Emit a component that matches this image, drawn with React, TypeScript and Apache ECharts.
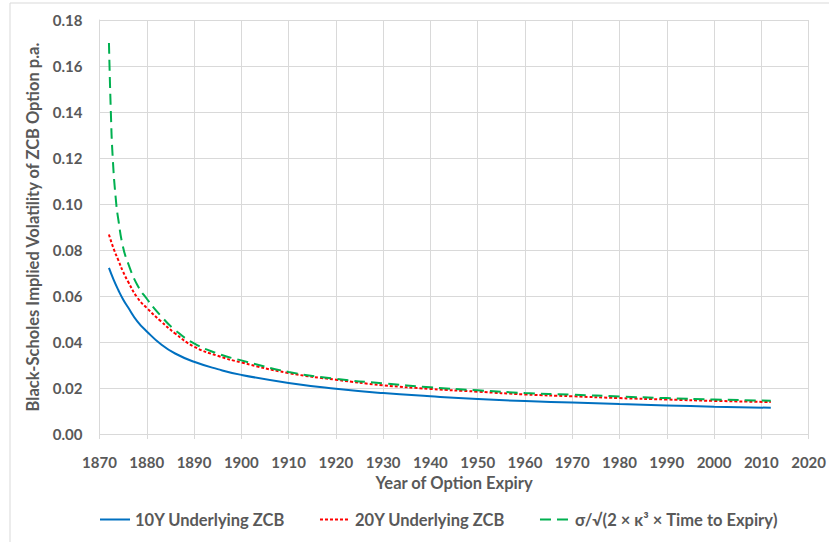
import React, { useEffect, useRef } from "react";
import * as echarts from "echarts";

// Years at which the 10Y / 20Y curves are sampled
const years = [1872, 1873, 1874, 1875, 1876, 1878, 1880, 1883, 1886, 1890, 1895, 1900, 1910, 1920, 1930, 1940, 1950, 1960, 1970, 1980, 1990, 2000, 2012];
const vol10Y = [0.0722, 0.0670, 0.0625, 0.0585, 0.0552, 0.0490, 0.0446, 0.0390, 0.0350, 0.0314, 0.0282, 0.0257, 0.0222, 0.0197, 0.0178, 0.0164, 0.0152, 0.0143, 0.0137, 0.0130, 0.0124, 0.0119, 0.0114];
const vol20Y = [0.0867, 0.0805, 0.0755, 0.0705, 0.0664, 0.0593, 0.0548, 0.0490, 0.0437, 0.0380, 0.0340, 0.0311, 0.0265, 0.0236, 0.0212, 0.0196, 0.0184, 0.0172, 0.0164, 0.0156, 0.0150, 0.0144, 0.0139];
// Approximation curve
const approxYears = [1872, 1872.4, 1872.8, 1873.5, 1874, 1874.9, 1876, 1878, 1880, 1883, 1886, 1890, 1895, 1900, 1910, 1920, 1930, 1940, 1950, 1960, 1970, 1980, 1990, 2000, 2012];
const volApprox = [0.170, 0.140, 0.120, 0.101, 0.093, 0.082, 0.0745, 0.0648, 0.0588, 0.0513, 0.0452, 0.0394, 0.0350, 0.0320, 0.0270, 0.0240, 0.0220, 0.0203, 0.0190, 0.0178, 0.0171, 0.0163, 0.0156, 0.0150, 0.0145];

const seriesNames = ["10Y Underlying ZCB", "20Y Underlying ZCB", "σ/√(2 × κ³ × Time to Expiry)"];
const xAxisTitle = "Year of Option Expiry";
const yAxisTitle = "Black-Scholes Implied Volatility of ZCB Option p.a.";

const FONT = "Lato, 'Open Sans', sans-serif";
const TXT = "#595959";
const GRID = "#d9d9d9";

export default function App() {
  const ref = useRef<HTMLDivElement>(null);
  useEffect(() => {
    if (!ref.current) return;
    const chart = echarts.init(ref.current, undefined, { renderer: "svg" });
    const zip = (xs: number[], ys: number[]) => xs.map((x, i) => [x, ys[i]]);
    chart.setOption({
      animation: false,
      backgroundColor: "#ffffff",
      textStyle: { fontFamily: FONT },
      graphic: [
        {
          type: "rect",
          shape: { x: 10, y: 3, width: 900, height: 700 },
          style: { fill: "none", stroke: GRID, lineWidth: 1 },
          silent: true,
        },
      ],
      grid: { left: 99.5, right: 18, top: 20, bottom: 108, containLabel: false },
      legend: {
        bottom: 9,
        left: 94,
        itemWidth: 30,
        itemHeight: 12,
        itemGap: 34,
        itemStyle: { opacity: 0 },
        textStyle: { fontFamily: FONT, fontWeight: "bold", fontSize: 16.5, color: TXT },
        data: seriesNames,
      },
      xAxis: {
        type: "value",
        min: 1870,
        max: 2020,
        interval: 10,
        name: xAxisTitle,
        nameLocation: "middle",
        nameGap: 40,
        nameTextStyle: { fontFamily: FONT, fontWeight: "bold", fontSize: 16.5, color: TXT },
        axisLine: { show: true, lineStyle: { color: GRID, width: 1 } },
        axisTick: { show: true, length: 5, lineStyle: { color: GRID } },
        axisLabel: { margin: 20, fontFamily: FONT, fontWeight: "bold", fontSize: 15, color: TXT, formatter: (v: number) => String(v) },
        splitLine: { show: true, lineStyle: { color: GRID, width: 1 } },
      },
      yAxis: {
        type: "value",
        min: 0,
        max: 0.18,
        interval: 0.02,
        name: yAxisTitle,
        nameLocation: "middle",
        nameGap: 57,
        nameTextStyle: { fontFamily: FONT, fontWeight: "bold", fontSize: 16.5, color: TXT },
        axisLine: { show: true, lineStyle: { color: GRID, width: 1 } },
        axisTick: { show: false },
        axisLabel: { margin: 17, fontFamily: FONT, fontWeight: "bold", fontSize: 15, color: TXT, formatter: (v: number) => v.toFixed(2) },
        splitLine: { show: true, lineStyle: { color: GRID, width: 1 } },
      },
      series: [
        {
          name: seriesNames[0],
          type: "line",
          data: zip(years, vol10Y),
          showSymbol: false,
          symbol: "none",
          smooth: 0.5,
          lineStyle: { color: "#0070C0", width: 2 },
          itemStyle: { color: "#0070C0" },
        },
        {
          name: seriesNames[1],
          type: "line",
          data: zip(years, vol20Y),
          showSymbol: false,
          symbol: "none",
          smooth: 0.5,
          lineStyle: { color: "#FF0000", width: 2, type: [3, 2] },
          itemStyle: { color: "#FF0000" },
        },
        {
          name: seriesNames[2],
          type: "line",
          data: zip(approxYears, volApprox),
          showSymbol: false,
          symbol: "none",
          smooth: 0.5,
          lineStyle: { color: "#00B050", width: 2, type: [11, 6] },
          itemStyle: { color: "#00B050" },
        },
      ],
    });
    return () => chart.dispose();
  }, []);
  return <div ref={ref} style={{ position: "fixed", left: 0, top: 0, width: 829, height: 542 }} />;
}
